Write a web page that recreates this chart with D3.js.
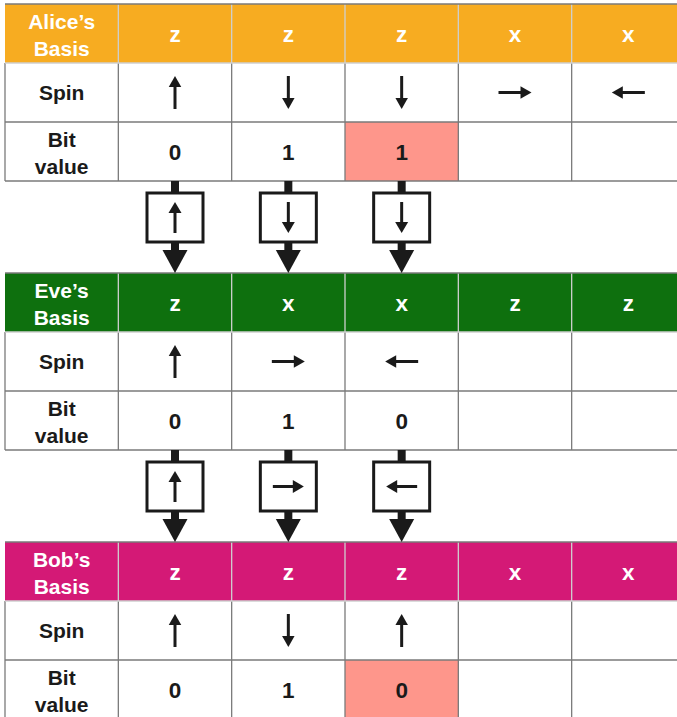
<!DOCTYPE html>
<html>
<head>
<meta charset="utf-8">
<script src="https://cdn.jsdelivr.net/npm/d3@7"></script>
<style>
  html, body { margin: 0; padding: 0; background: #ffffff; }
  svg { display: block; font-family: "Liberation Sans", Arial, Helvetica, sans-serif; font-weight: bold; }
</style>
</head>
<body>
<svg id="chart" width="677" height="717"></svg>
<script>
// ---- Data ----
const parties = ["Alice", "Eve", "Bob"];
const partyLabels = ["Alice’s", "Eve’s", "Bob’s"];
const rowKeys = ["basis", "spin", "bit"];
const columns = [0, 1, 2, 3, 4];

const aliceBasis = ["z", "z", "z", "x", "x"];
const aliceSpin  = ["up", "down", "down", "right", "left"];
const aliceBit   = ["0", "1", "1", "", ""];

const eveBasis = ["z", "x", "x", "z", "z"];
const eveSpin  = ["up", "right", "left", "", ""];
const eveBit   = ["0", "1", "0", "", ""];

const bobBasis = ["z", "z", "z", "x", "x"];
const bobSpin  = ["up", "down", "up", "", ""];
const bobBit   = ["0", "1", "0", "", ""];

// bit cells highlighted (Alice/Bob mismatch)
const aliceHighlight = [2];
const eveHighlight = [];
const bobHighlight = [2];

// particles passed on between the parties
const aliceToEve = ["up", "down", "down"];
const eveToBob   = ["up", "right", "left"];

const tables = [
  { party: "Alice", label: partyLabels[0], basis: aliceBasis, spin: aliceSpin, bit: aliceBit, hl: aliceHighlight },
  { party: "Eve",   label: partyLabels[1], basis: eveBasis,   spin: eveSpin,   bit: eveBit,   hl: eveHighlight },
  { party: "Bob",   label: partyLabels[2], basis: bobBasis,   spin: bobSpin,   bit: bobBit,   hl: bobHighlight }
];
const transfers = [
  { from: "Alice", to: "Eve", dirs: aliceToEve },
  { from: "Eve",   to: "Bob", dirs: eveToBob }
];

// ---- Styles ----
const headerColor = d3.scaleOrdinal().domain(parties).range(["#F7AC21", "#0E700E", "#D41976"]);
const highlightColor = "#FE968B";
const ink = "#1a1a1a";
const gridDark = "#7a7a7a";
const gridLight = "#cfcfcf";
const labelSize = 21;
const valueSize = 22.5;

// ---- Layout scales ----
const svg = d3.select("#chart");
const colDomain = ["label"].concat(columns);
const x = d3.scaleBand().domain(colDomain).range([5, 685]);
const tableBand = d3.scaleBand().domain(parties).range([4, 719]).paddingInner(0.342);
const rowBand = d3.scaleBand().domain(rowKeys).range([0, tableBand.bandwidth()]);
const rowH = rowBand.bandwidth();

const rotation = { up: 0, right: 90, down: 180, left: 270 };

function arrow(g, cx, cy, dir, len, headW, headL, shaftW) {
  if (!dir) return;
  const a = g.append("g").attr("transform", `translate(${cx},${cy}) rotate(${rotation[dir]})`);
  a.append("line")
    .attr("x1", 0).attr("x2", 0)
    .attr("y1", len / 2).attr("y2", -len / 2 + headL - 1)
    .attr("stroke", ink).attr("stroke-width", shaftW);
  a.append("path")
    .attr("d", `M0,${-len / 2} L${headW / 2},${-len / 2 + headL} L${-headW / 2},${-len / 2 + headL} Z`)
    .attr("fill", ink);
}

tables.forEach(t => {
  const top = tableBand(t.party);
  const g = svg.append("g").attr("class", "table-" + t.party);
  const y0 = top + rowBand("basis");
  const y1 = top + rowBand("spin");
  const y2 = top + rowBand("bit");
  const bottom = top + tableBand.bandwidth();
  const left = x("label");
  const right = x.range()[1];

  // header background
  g.append("rect")
    .attr("x", left).attr("y", y0).attr("width", right - left).attr("height", rowH)
    .attr("fill", headerColor(t.party));

  // highlighted bit cells
  g.selectAll("rect.hl").data(t.hl).join("rect")
    .attr("class", "hl")
    .attr("x", d => x(d)).attr("y", y2)
    .attr("width", x.bandwidth()).attr("height", rowH)
    .attr("fill", highlightColor);

  // grid: vertical lines
  const vx = colDomain.map(c => x(c));
  g.selectAll("line.vh").data(vx.slice(1)).join("line")
    .attr("class", "vh")
    .attr("x1", d => d).attr("x2", d => d).attr("y1", y0).attr("y2", y1)
    .attr("stroke", gridLight).attr("stroke-width", 1.3);
  g.selectAll("line.vb").data(vx).join("line")
    .attr("class", "vb")
    .attr("x1", d => d).attr("x2", d => d).attr("y1", y1).attr("y2", bottom)
    .attr("stroke", gridDark).attr("stroke-width", 1.3);
  // horizontal lines
  g.append("line").attr("x1", left).attr("x2", right).attr("y1", y0).attr("y2", y0)
    .attr("stroke", gridDark).attr("stroke-width", 1.3);
  g.append("line").attr("x1", left).attr("x2", right).attr("y1", y1).attr("y2", y1)
    .attr("stroke", gridLight).attr("stroke-width", 1.3);
  g.append("line").attr("x1", left).attr("x2", right).attr("y1", y2).attr("y2", y2)
    .attr("stroke", gridDark).attr("stroke-width", 1.3);
  g.append("line").attr("x1", left).attr("x2", right).attr("y1", bottom).attr("y2", bottom)
    .attr("stroke", gridDark).attr("stroke-width", 1.3);

  const lx = x("label") + x.bandwidth() / 2;
  // header label
  const ht = g.append("text").attr("x", lx).attr("y", y0 + rowH / 2)
    .attr("text-anchor", "middle").attr("fill", "#ffffff").attr("font-size", labelSize);
  ht.append("tspan").attr("x", lx).attr("dy", "-0.22em").text(t.label);
  ht.append("tspan").attr("x", lx).attr("dy", "1.3em").text("Basis");

  g.append("text").attr("x", lx).attr("y", y1 + rowH / 2 + 7.5)
    .attr("text-anchor", "middle").attr("fill", ink).attr("font-size", labelSize).text("Spin");

  const bt = g.append("text").attr("x", lx).attr("y", y2 + rowH / 2)
    .attr("text-anchor", "middle").attr("fill", ink).attr("font-size", labelSize);
  bt.append("tspan").attr("x", lx).attr("dy", "-0.22em").text("Bit");
  bt.append("tspan").attr("x", lx).attr("dy", "1.3em").text("value");

  // basis letters
  g.selectAll("text.basis").data(t.basis).join("text")
    .attr("class", "basis")
    .attr("x", (d, i) => x(columns[i]) + x.bandwidth() / 2)
    .attr("y", y0 + rowH / 2 + 8.5)
    .attr("text-anchor", "middle").attr("fill", "#ffffff").attr("font-size", valueSize)
    .text(d => d);

  // spin arrows
  t.spin.forEach((d, i) => {
    arrow(g, x(columns[i]) + x.bandwidth() / 2, y1 + rowH / 2, d, 33, 12.5, 11, 3);
  });

  // bit values
  g.selectAll("text.bit").data(t.bit).join("text")
    .attr("class", "bit")
    .attr("x", (d, i) => x(columns[i]) + x.bandwidth() / 2)
    .attr("y", y2 + rowH / 2 + 8.5)
    .attr("text-anchor", "middle").attr("fill", ink).attr("font-size", valueSize)
    .text(d => d);
});

// connectors between tables
transfers.forEach(tr => {
  const start = tableBand(tr.from) + tableBand.bandwidth();
  const end = tableBand(tr.to);
  const g = svg.append("g").attr("class", "transfer");
  tr.dirs.forEach((d, i) => {
    const cx = x(columns[i]) + x.bandwidth() / 2;
    const boxTop = start + 12, boxH = 49, boxW = 56;
    const headTop = end - 23;
    g.append("rect").attr("x", cx - 4).attr("y", start).attr("width", 8).attr("height", boxTop - start)
      .attr("fill", ink);
    g.append("rect").attr("x", cx - 4).attr("y", boxTop + boxH).attr("width", 8).attr("height", headTop - boxTop - boxH + 1)
      .attr("fill", ink);
    g.append("path")
      .attr("d", `M${cx - 12.5},${headTop} L${cx + 12.5},${headTop} L${cx},${end} Z`)
      .attr("fill", ink);
    g.append("rect").attr("x", cx - boxW / 2).attr("y", boxTop).attr("width", boxW).attr("height", boxH)
      .attr("fill", "#ffffff").attr("stroke", ink).attr("stroke-width", 3);
    arrow(g, cx, boxTop + boxH / 2, d, 31, 13, 11, 3);
  });
});
</script>
</body>
</html>
